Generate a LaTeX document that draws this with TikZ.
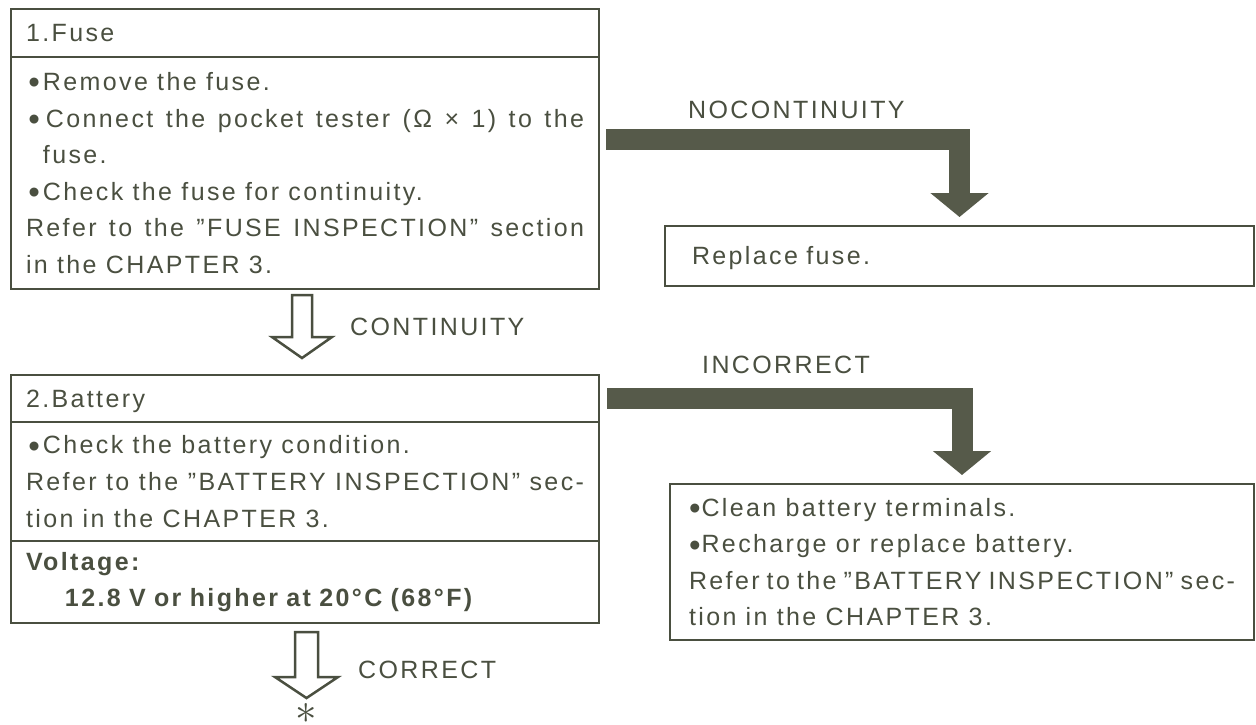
\documentclass[tikz,border=0pt]{standalone}
\usepackage{fontspec}
\setmainfont{Liberation Sans}[LetterSpace=9.5]
\usepackage{graphicx}
\usepackage{tikz}
\usetikzlibrary{arrows.meta,positioning}
\setlength{\parindent}{0pt}
\definecolor{inkolive}{HTML}{4A4F40}
\definecolor{barolive}{HTML}{565A4A}
\newcommand{\dotmark}{\raisebox{-3.5pt}{\fontsize{33}{0}\selectfont\textbullet}}
\newcommand{\bul}{\leavevmode\llap{\dotmark\hspace{3pt}}}
\tikzset{
  headbox/.style={
    rectangle, draw=inkolive, line width=2pt, outer sep=0pt,
    minimum width=588pt, minimum height=48pt, text width=558pt,
    inner xsep=15pt, text height=17.5pt, text depth=0pt,
    align=left, anchor=north west
  },
  bodybox/.style={
    rectangle, draw=inkolive, line width=2pt, outer sep=0pt,
    minimum width=588pt, text width=558pt, inner xsep=15pt,
    align=justify
  },
  resultbox/.style={
    rectangle, draw=inkolive, line width=2pt, outer sep=0pt,
    anchor=north west, align=left
  },
  flowlabel/.style={anchor=base west, inner sep=0pt},
  fatarrow/.style={draw=barolive, line width=21pt, -{Triangle[length=24pt,width=57pt]}},
  hollowarrow/.style={draw=inkolive, line width=2.5pt, fill=white, line join=miter},
}
\begin{document}
\begin{tikzpicture}[x=1pt, y=-1pt, text=inkolive, font=\fontsize{25}{36.6}\selectfont]
  \useasboundingbox (0,0) rectangle (1256,724);
  \node[headbox] (fusehead) at (11,9) {1.Fuse};
  \node[bodybox, minimum height=232pt, below=0pt of fusehead] (fusebody) {\leftskip=17pt
    \bul Remove the fuse.\par
    \bul\hspace{3pt}Connect the pocket tester (Ω × 1) to the\linebreak fuse.\par
    \bul Check the fuse for continuity.\par
    Refer to the "FUSE INSPECTION" section\linebreak in the CHAPTER 3.};
  \node[resultbox, minimum height=60pt, text width=535pt, inner xsep=27pt, text height=17.5pt, text depth=0pt] (replace) at (665,226) {Replace fuse.};
  \node[headbox, minimum height=47pt] (batthead) at (11,375) {2.Battery};
  \node[bodybox, minimum height=119pt, below=0pt of batthead] (battbody) {\leftskip=17pt
    \bul Check the battery condition.\par
    Refer to the "BATTERY INSPECTION" sec-\linebreak tion in the CHAPTER 3.};
  \node[bodybox, minimum height=82pt, align=left, below=0pt of battbody] (voltbox) {\bfseries Voltage:\\\hspace*{39pt}12.8 V or higher at 20°C (68°F)};
  \node[resultbox, minimum height=156pt, text width=546pt, inner xsep=19pt, align=justify] (battfix) at (670,484) {%
    \dotmark\hspace{1pt}Clean battery terminals.\par
    \dotmark\hspace{1pt}Recharge or replace battery.\par
    Refer to the "BATTERY INSPECTION" sec-\linebreak tion in the CHAPTER 3.};
  \node[flowlabel] (nocont) at (688,118) {NOCONTINUITY};
  \node[flowlabel] (cont) at (350,335) {CONTINUITY};
  \node[flowlabel] (incorr) at (702,373) {INCORRECT};
  \node[flowlabel] (corr) at (358,678) {CORRECT};
  \node[anchor=base, inner sep=0pt] (star) at (306,723) {\resizebox{!}{20pt}{$\ast$}};
  \draw[fatarrow] ([shift={(7,-33.5)}]fusebody.east) -| ([shift={(0,-9)}]replace.north);
  \draw[fatarrow] ([shift={(8,0)}]batthead.east) -| ([shift={(0,-9)}]battfix.north);
  \draw[hollowarrow] (fusebody.south) ++(-13,6) -- ++(0,42) -- ++(-20,0) -- ++(30,21) -- ++(30,-21) -- ++(-20,0) -- ++(0,-42) -- cycle;
  \draw[hollowarrow] (voltbox.south) ++(-10,9) -- ++(0,45) -- ++(-20,0) -- ++(31.5,21) -- ++(31.5,-21) -- ++(-20,0) -- ++(0,-45) -- cycle;
\end{tikzpicture}
\end{document}
